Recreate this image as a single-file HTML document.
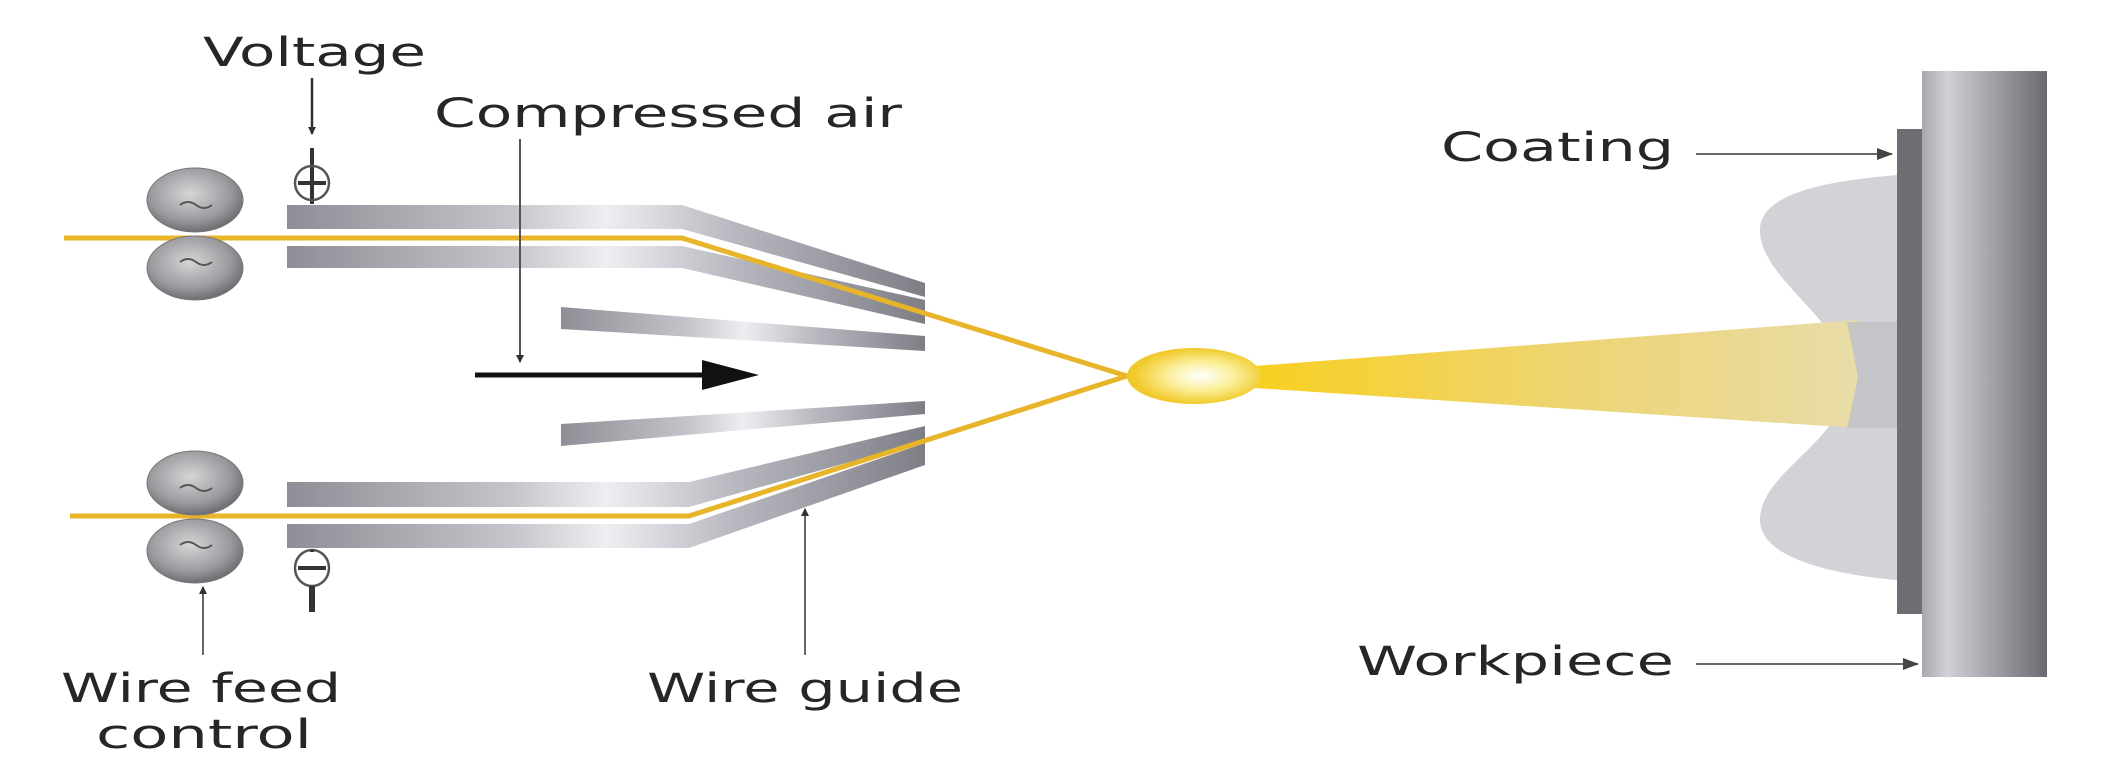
<!DOCTYPE html>
<html><head><meta charset="utf-8"><style>html,body{margin:0;padding:0;background:#fff}svg{display:block}</style></head>
<body>
<svg width="2107" height="764" viewBox="0 0 2107 764" xmlns="http://www.w3.org/2000/svg" font-family="DejaVu Sans, Liberation Sans, sans-serif">
<defs>
<linearGradient id="bar" x1="0" x2="1" y1="0" y2="0">
<stop offset="0" stop-color="#8e8e96"/><stop offset="0.35" stop-color="#c4c4ca"/><stop offset="0.5" stop-color="#eeeef2"/><stop offset="0.7" stop-color="#b8b8c0"/><stop offset="1" stop-color="#7e7e86"/></linearGradient>
<radialGradient id="roll" cx="0.45" cy="0.4" r="0.6"><stop offset="0" stop-color="#d6d6d8"/><stop offset="0.7" stop-color="#9a9a9e"/><stop offset="1" stop-color="#6e6e72"/></radialGradient>
<linearGradient id="cone" x1="0" x2="1"><stop offset="0" stop-color="#f8d020"/><stop offset="0.5" stop-color="#eed470"/><stop offset="1" stop-color="#e8dca8"/></linearGradient>
<radialGradient id="spark" cx="0.55" cy="0.5" r="0.5"><stop offset="0" stop-color="#ffffff"/><stop offset="0.5" stop-color="#fbef9a"/><stop offset="1" stop-color="#f1c92a"/></radialGradient>
<linearGradient id="wp" x1="0" x2="1"><stop offset="0" stop-color="#a8a8ae"/><stop offset="0.2" stop-color="#d0d0d6"/><stop offset="1" stop-color="#6a6a70"/></linearGradient>
<marker id="ah" markerWidth="8" markerHeight="8" refX="7" refY="4" orient="auto" markerUnits="userSpaceOnUse"><path d="M0,0 L8,4 L0,8z" fill="#333"/></marker>
<marker id="ah2" markerWidth="16" markerHeight="12" refX="15" refY="6" orient="auto" markerUnits="userSpaceOnUse"><path d="M0,0 L16,6 L0,12z" fill="#444"/></marker>
</defs>

<path d="M1897,175 C1840,180 1760,190 1760,230 C1760,280 1845,320 1847,377 C1849,440 1760,470 1760,520 C1760,560 1840,575 1897,580 Z" fill="#d3d3d7"/>
<polygon points="1255,366 1857,320 1857,428 1255,388" fill="url(#cone)"/>
<path d="M1847,322 L1897,322 L1897,428 L1847,428 L1858,377 Z" fill="#c3c3c8" opacity="0.9"/>
<rect x="1922" y="71" width="125" height="606" fill="url(#wp)"/>
<rect x="1897" y="129" width="25" height="485" fill="#6e6e74"/>

<g fill="url(#bar)">
<path d="M287,205 L682,205 L925,283 L925,297 L682,229 L287,229Z"/>
<path d="M287,246 L682,246 L925,300 L925,324 L682,268 L287,268Z"/>
<path d="M561,307 L925,336 L925,351 L561,329Z"/>
<path d="M561,424 L925,401 L925,414 L561,446Z"/>
<path d="M287,482 L689,482 L925,426 L925,441 L689,507 L287,507Z"/>
<path d="M287,524 L689,524 L925,443 L925,465 L689,548 L287,548Z"/>
</g>
<path d="M64,238 L682,238 L1127,376" fill="none" stroke="#e8b42a" stroke-width="5"/>
<path d="M70,516 L689,516 L1127,376" fill="none" stroke="#e8b42a" stroke-width="5"/>
<ellipse cx="1194" cy="376" rx="67" ry="28" fill="url(#spark)"/>

<g stroke="#777" stroke-width="1">
<ellipse cx="195" cy="200" rx="48" ry="32" fill="url(#roll)"/>
<ellipse cx="195" cy="268" rx="48" ry="32" fill="url(#roll)"/>
<ellipse cx="195" cy="483" rx="48" ry="32" fill="url(#roll)"/>
<ellipse cx="195" cy="551" rx="48" ry="32" fill="url(#roll)"/>
</g>
<g fill="none" stroke="#555" stroke-width="2">
<path d="M180,205 q8,-6 16,0 t16,0"/><path d="M180,262 q8,-6 16,0 t16,0"/>
<path d="M180,488 q8,-6 16,0 t16,0"/><path d="M180,545 q8,-6 16,0 t16,0"/>
</g>

<line x1="312" y1="78" x2="312" y2="134" stroke="#333" stroke-width="2.5" marker-end="url(#ah)"/>
<line x1="312" y1="148" x2="312" y2="204" stroke="#333" stroke-width="4"/>
<ellipse cx="312" cy="183" rx="17" ry="17" fill="none" stroke="#555" stroke-width="2.5"/>
<line x1="298" y1="183" x2="326" y2="183" stroke="#333" stroke-width="4"/>
<ellipse cx="312" cy="568" rx="17" ry="18" fill="#fff" stroke="#555" stroke-width="2.5"/>
<line x1="298" y1="568" x2="326" y2="568" stroke="#333" stroke-width="4"/>
<line x1="312" y1="586" x2="312" y2="612" stroke="#333" stroke-width="6"/>
<line x1="312" y1="550" x2="312" y2="552" stroke="#333" stroke-width="4"/>

<line x1="520" y1="139" x2="520" y2="362" stroke="#555" stroke-width="2" marker-end="url(#ah)"/>
<line x1="475" y1="375" x2="705" y2="375" stroke="#111" stroke-width="5"/>
<polygon points="702,360 759,375 702,390" fill="#111"/>

<line x1="203" y1="655" x2="203" y2="587" stroke="#666" stroke-width="2" marker-end="url(#ah)"/>
<line x1="805" y1="655" x2="805" y2="509" stroke="#666" stroke-width="2" marker-end="url(#ah)"/>
<line x1="1696" y1="154" x2="1892" y2="154" stroke="#666" stroke-width="2" marker-end="url(#ah2)"/>
<line x1="1696" y1="664" x2="1918" y2="664" stroke="#666" stroke-width="2" marker-end="url(#ah2)"/>

<g fill="#262626" font-size="40">
<text x="203" y="66" textLength="223" lengthAdjust="spacingAndGlyphs">Voltage</text>
<text x="434" y="127" textLength="468" lengthAdjust="spacingAndGlyphs">Compressed air</text>
<text x="61" y="702" textLength="280" lengthAdjust="spacingAndGlyphs">Wire feed</text>
<text x="96" y="748" textLength="216" lengthAdjust="spacingAndGlyphs">control</text>
<text x="647" y="702" textLength="316" lengthAdjust="spacingAndGlyphs">Wire guide</text>
<text x="1441" y="161" textLength="233" lengthAdjust="spacingAndGlyphs">Coating</text>
<text x="1357" y="675" textLength="317" lengthAdjust="spacingAndGlyphs">Workpiece</text>
</g>
</svg>
</body></html>
